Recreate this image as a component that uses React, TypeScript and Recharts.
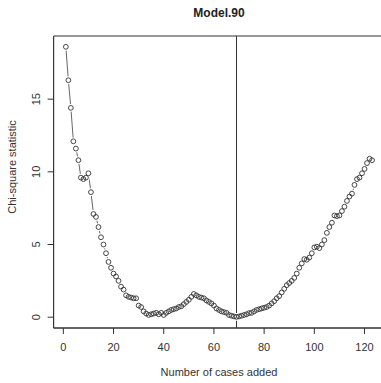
import React from "react";
import {
  LineChart,
  Line,
  XAxis,
  YAxis,
  ReferenceLine,
  ReferenceArea,
} from "recharts";

// cases added (x) and chi-square statistic (y)
const casesAdded = Array.from({ length: 123 }, (_, i) => i + 1);
const chiSquare = [
  18.6, 16.3, 14.4, 12.1, 11.6, 10.8, 9.6, 9.5, 9.6, 9.9,
  8.6, 7.1, 6.9, 6.2, 5.5, 5.0, 4.4, 3.8, 3.4, 3.0,
  2.8, 2.5, 2.1, 1.9, 1.5, 1.4, 1.35, 1.3, 1.3, 0.8,
  0.7, 0.4, 0.25, 0.15, 0.2, 0.25, 0.3, 0.2, 0.3, 0.15,
  0.3, 0.4, 0.5, 0.55, 0.6, 0.7, 0.75, 0.9, 1.05, 1.2,
  1.4, 1.6, 1.5, 1.4, 1.35, 1.3, 1.15, 1.05, 0.95, 0.8,
  0.6, 0.5, 0.4, 0.35, 0.3, 0.15, 0.1, 0.05, 0.02, 0.05,
  0.1, 0.15, 0.2, 0.28, 0.3, 0.4, 0.5, 0.55, 0.6, 0.65,
  0.7, 0.8, 0.95, 1.1, 1.3, 1.45, 1.7, 1.95, 2.2, 2.35,
  2.5, 2.7, 3.0, 3.4, 3.7, 4.0, 3.95, 4.1, 4.4, 4.8,
  4.85, 4.75, 5.0, 5.3, 5.8, 6.2, 6.5, 7.0, 6.95, 7.0,
  7.3, 7.6, 8.0, 8.3, 8.5, 9.1, 9.5, 9.6, 9.9, 10.2,
  10.6, 10.9, 10.8,
];
const xTicks = [0, 20, 40, 60, 80, 100, 120];
const yTicks = [0, 5, 10, 15];
const cutoff = 69;

const data = casesAdded.map((x, i) => ({ x, y: chiSquare[i] }));

const X_DOMAIN: [number, number] = [-3.88, 127.88];
const Y_DOMAIN: [number, number] = [-0.744, 19.344];

const FONT = "'Liberation Sans', Arial, sans-serif";
const INK = "#333";

// white gap around each point, like R's type = "b"
const GapDot = (props: any) => {
  const { cx, cy, index } = props;
  if (cx == null || cy == null) return null;
  return <circle key={index} cx={cx} cy={cy} r={3.9} fill="#fff" stroke="none" />;
};

const OpenDot = (props: any) => {
  const { cx, cy, index } = props;
  if (cx == null || cy == null) return null;
  return (
    <circle key={index} cx={cx} cy={cy} r={2.4} fill="none" stroke={INK} strokeWidth={0.9} />
  );
};

const YTick = (props: any) => {
  const { y, payload } = props;
  return (
    <text
      x={40}
      y={y}
      transform={`rotate(-90 40 ${y})`}
      textAnchor="middle"
      fontSize={11}
      fontFamily={FONT}
      fill={INK}
    >
      {payload.value}
    </text>
  );
};

export default function App() {
  return (
    <div
      style={{
        position: "absolute",
        left: 0,
        top: 0,
        width: 381,
        height: 383,
        overflow: "hidden",
        background: "#fff",
      }}
    >
      <div
        style={{
          position: "absolute",
          left: 0,
          width: 438,
          top: 6,
          textAlign: "center",
          fontFamily: FONT,
          fontWeight: "bold",
          fontSize: 12,
          color: "#222",
        }}
      >
        Model.90
      </div>
      <LineChart
        width={390}
        height={383}
        data={data}
        margin={{ top: 36, right: 5.7, left: 0, bottom: 0 }}
      >
        <XAxis
          dataKey="x"
          type="number"
          domain={X_DOMAIN}
          ticks={xTicks}
          allowDataOverflow
          height={55}
          tickSize={6}
          tickMargin={9}
          axisLine={{ stroke: INK }}
          tickLine={{ stroke: INK }}
          tick={{ fontSize: 11, fontFamily: FONT, fill: INK }}
          label={() => (
            <text
              x={219}
              y={376}
              textAnchor="middle"
              fontSize={11}
              fontFamily={FONT}
              fill={INK}
            >
              Number of cases added
            </text>
          )}
        />
        <YAxis
          type="number"
          domain={Y_DOMAIN}
          ticks={yTicks}
          allowDataOverflow
          width={53.6}
          tickSize={6}
          axisLine={{ stroke: INK }}
          tickLine={{ stroke: INK }}
          tick={<YTick />}
          label={() => (
            <text
              x={16}
              y={167}
              transform="rotate(-90 16 167)"
              textAnchor="middle"
              fontSize={11}
              fontFamily={FONT}
              fill={INK}
            >
              Chi-square statistic
            </text>
          )}
        />
        <ReferenceArea
          x1={X_DOMAIN[0]}
          x2={X_DOMAIN[1]}
          y1={Y_DOMAIN[0]}
          y2={Y_DOMAIN[1]}
          fill="none"
          stroke={INK}
          strokeWidth={1}
          fillOpacity={0}
        />
        <ReferenceLine x={cutoff} stroke={INK} strokeWidth={1} />
        <Line
          type="linear"
          dataKey="y"
          stroke="#555"
          strokeWidth={0.9}
          dot={false}
          activeDot={false}
          isAnimationActive={false}
        />
        <Line
          type="linear"
          dataKey="y"
          stroke="none"
          dot={<GapDot />}
          activeDot={false}
          isAnimationActive={false}
        />
        <Line
          type="linear"
          dataKey="y"
          stroke="none"
          dot={<OpenDot />}
          activeDot={false}
          isAnimationActive={false}
        />
      </LineChart>
    </div>
  );
}
